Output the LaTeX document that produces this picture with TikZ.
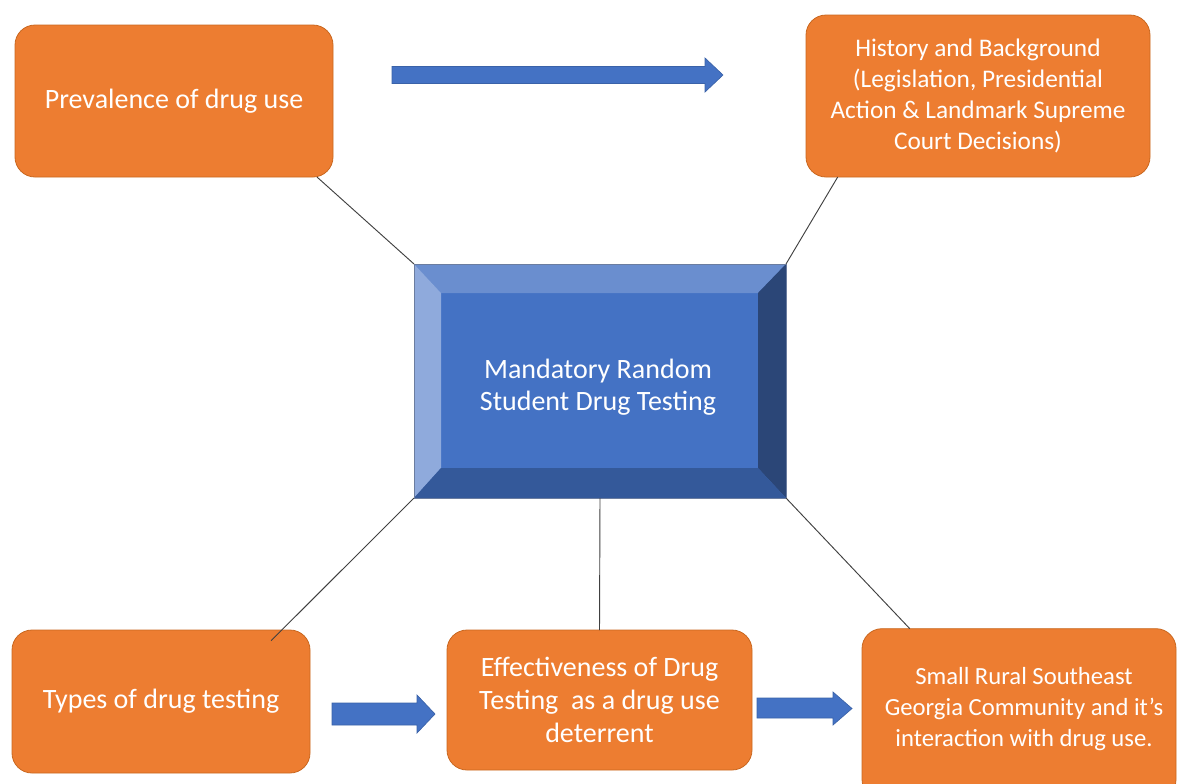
\documentclass[tikz,border=0pt]{standalone}
\usepackage{fontspec}
\setmainfont{Carlito}
\usepackage{xcolor}

\definecolor{boxorange}{HTML}{ED7D31}
\definecolor{boxedge}{HTML}{C9671F}
\definecolor{mainblue}{HTML}{4472C4}
\definecolor{bevtop}{HTML}{6A8ECF}
\definecolor{bevleft}{HTML}{8FAADC}
\definecolor{bevright}{HTML}{2B4677}
\definecolor{bevbottom}{HTML}{34599A}
\definecolor{arrowedge}{HTML}{3A62A8}

\tikzset{
  topic/.style={draw=boxedge, line width=0.6pt, fill=boxorange, rounded corners=15pt,
    text=white, align=center, inner sep=0pt, outer sep=0pt,
    font=\fontsize{21}{24.5}\selectfont},
  mainbox/.style={draw=bevright!70, line width=0.5pt, fill=mainblue, inner sep=0pt, outer sep=0pt,
    minimum width=279pt, minimum height=175.5pt},
  link/.style={draw=black!75, line width=0.7pt},
  blockarrow/.style={fill=mainblue, draw=arrowedge, line width=0.5pt}
}

\begin{document}
\begin{tikzpicture}[x=0.75pt, y=-0.75pt]
    \useasboundingbox (0,0) rectangle (1177,783);
    \clip (0,0) rectangle (1177,783);

    % Centre box with bevel
    \node[mainbox] (center) at (600,381) {};
    \fill[bevtop] (center.north west) -- (center.north east) -- ++(-28,29) -- (441,293) -- cycle;
    \fill[bevleft] (center.north west) -- (441,293) -- (441,468) -- (center.south west) -- cycle;
    \fill[bevright] (center.north east) -- (center.south east) -- (758,468) -- (758,293) -- cycle;
    \fill[bevbottom] (center.south west) -- (441,468) -- (758,468) -- (center.south east) -- cycle;
    \draw[bevright!70, line width=0.5pt] (center.north west) rectangle (center.south east);
    \node[text=white, align=center, font=\fontsize{21}{24}\selectfont] (centertext) at (598,387)
        {Mandatory Random\\Student Drug Testing};

    % Topics
    \node[topic, minimum width=238.5pt, minimum height=114pt] (prev) at (174,101)
        {Prevalence of drug use};
    \node[topic, minimum width=258pt, minimum height=121.5pt, font=\fontsize{19}{23.25}\selectfont] (hist) at (978,96)
        {History and Background\\(Legislation, Presidential\\Action \& Landmark Supreme\\Court Decisions)};
    \node[topic, minimum width=223.5pt, minimum height=107.25pt] (types) at (161,701.5)
        {Types of drug testing};
    \node[topic, minimum width=228.75pt, minimum height=105pt] (eff) at (599.5,700)
        {Effectiveness of Drug\\Testing\ \ as a drug use\\deterrent};
    \node[topic, minimum width=235.5pt, minimum height=128pt] (rural) at (1019,714)
        {};
    \node[text=white, align=center, font=\fontsize{18.5}{23.25}\selectfont] (ruraltext) at (1024,709)
        {Small Rural Southeast\\Georgia Community and it’s\\interaction with drug use.};

    % Links
    \draw[link] (prev.-28) -- (center.north west);
    \draw[link] (hist.210) -- (center.north east);
    \draw[link] ([yshift=-8]types.33) -- (center.south west);
    \draw[link] (eff.north) -- (center.south);
    \draw[link] (rural.142) -- (center.south east);

    % Arrows
    \draw[blockarrow] (392,66.5) -- (705,66.5) -- (705,58) -- (723,75) -- (705,92) -- (705,83.5) -- (392,83.5) -- cycle;
    \draw[blockarrow] (332,703) -- (417,703) -- (417,695) -- (435,714) -- (417,733) -- (417,725) -- (332,725) -- cycle;
    \draw[blockarrow] (757,698) -- (833,698) -- (833,692) -- (852,708.5) -- (833,725) -- (833,718) -- (757,718) -- cycle;
\end{tikzpicture}
\end{document}
